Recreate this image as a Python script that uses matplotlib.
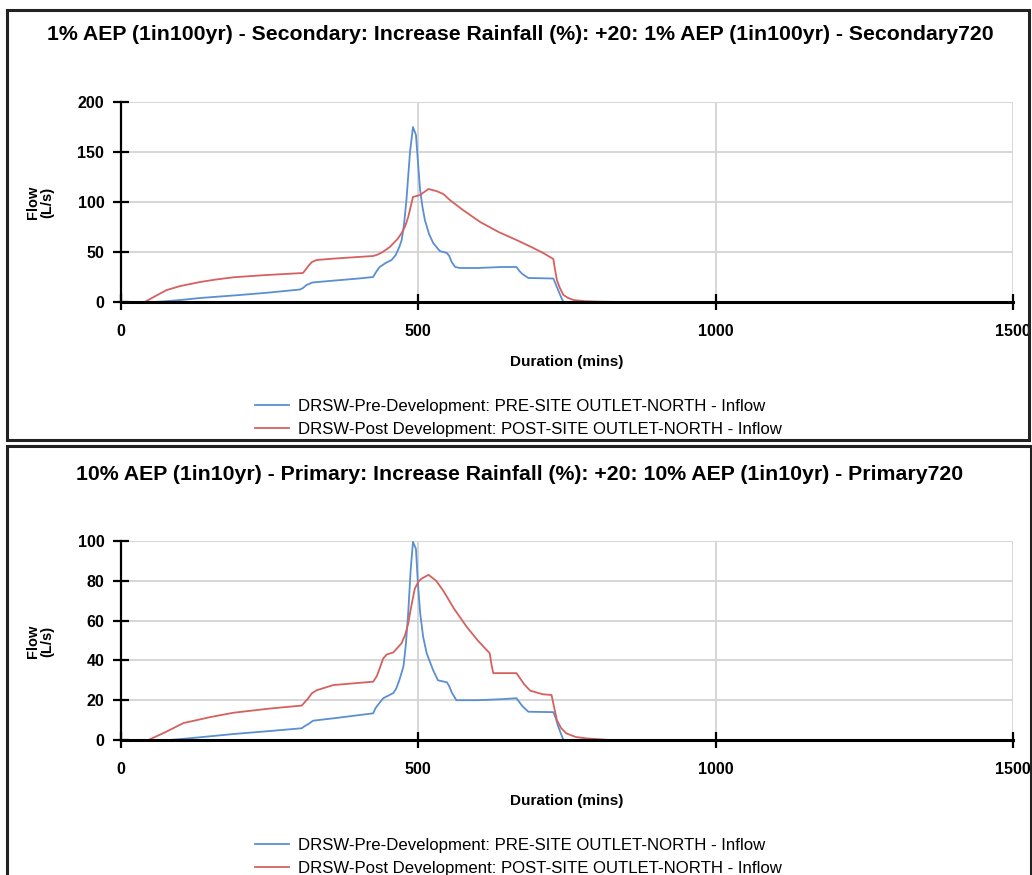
"""Two hydrographs: pre vs post development inflow at the north outlet."""
import matplotlib; matplotlib.use("Agg")
import matplotlib.pyplot as plt
from matplotlib.patches import Rectangle
from matplotlib import rcParams
rcParams["font.family"] = ["Liberation Sans", "DejaVu Sans"]

W, H = 1032, 875

TITLES = [
    "1% AEP (1in100yr) - Secondary: Increase Rainfall (%): +20: 1% AEP (1in100yr) - Secondary720",
    "10% AEP (1in10yr) - Primary: Increase Rainfall (%): +20: 10% AEP (1in10yr) - Primary720",
]
LABELS = ["DRSW-Pre-Development: PRE-SITE OUTLET-NORTH - Inflow",
          "DRSW-Post Development: POST-SITE OUTLET-NORTH - Inflow"]
X_TICKS = [0, 500, 1000, 1500]
Y_TICKS = [[0, 50, 100, 150, 200], [0, 20, 40, 60, 80, 100]]

# 1% AEP panel
pre1_t = [0, 57, 80, 100, 133, 200, 250, 301, 306, 312, 322, 350, 400, 424, 430, 435, 445, 455, 462,
          468, 472, 476, 480, 486, 491, 496, 500, 503, 507, 511, 518, 525, 536, 548, 552, 556, 562,
          570, 600, 640, 665, 670, 675, 685, 727, 731, 735, 740, 744, 760]
pre1_q = [0, 0, 1, 2, 4, 7, 9.5, 12.5, 14, 17, 19.5, 21, 23.5, 25, 31, 35, 39, 42, 47,
          55, 62, 78, 102, 150, 175, 167, 135, 112, 95, 82, 68, 59, 51, 49, 46, 40, 35,
          34, 34, 35, 35, 31, 28, 24, 23.5, 18, 12, 5, 0, 0]
post1_t = [40, 55, 77, 100, 133, 160, 189, 245, 306, 310, 315, 321, 329, 360, 424, 432, 440, 452,
           465, 472, 478, 483, 487, 491, 497, 503, 510, 517, 530, 542, 553, 575, 604, 635, 665, 690,
           710, 727, 730, 733, 738, 744, 752, 761, 780, 805, 840]
post1_q = [0, 5, 12, 16, 20, 22.5, 24.7, 27, 29, 32, 36, 40, 42, 43.5, 46, 47.5, 50, 55,
           63, 69, 76, 85, 95, 105, 106, 107, 110, 113, 111, 108, 102, 92, 80, 70, 62, 55,
           49, 43, 32, 22, 14, 7, 4, 2, 0.8, 0.3, 0]

# 10% AEP panel
pre2_t = [0, 82, 120, 189, 250, 304, 309, 315, 323, 360, 424, 428, 433, 441, 458, 463, 468, 475, 479,
          483, 487, 491, 496, 499, 503, 508, 514, 525, 533, 548, 552, 556, 564, 600, 640, 665, 670,
          675, 685, 727, 731, 735, 740, 744, 760]
pre2_q = [0, 0, 1, 3, 4.5, 5.9, 7, 8, 9.7, 11, 13.4, 16, 18, 21, 23.6, 26, 30, 37, 48,
          64, 85, 99.6, 96, 80, 64, 52, 43.6, 35, 30, 29, 27, 24, 20, 20, 20.5, 21, 19,
          17, 14.2, 14, 11, 7, 3, 0, 0]
post2_t = [46, 75, 105, 150, 189, 250, 304, 309, 315, 321, 329, 357, 424, 430, 435, 441, 447, 458,
           472, 478, 483, 488, 494, 500, 505, 517, 530, 542, 560, 581, 600, 620, 623, 626, 665, 671,
           678, 688, 709, 724, 728, 733, 740, 749, 765, 783, 823]
post2_q = [0, 4, 8.5, 11.5, 13.7, 15.8, 17.3, 19, 21, 23.5, 25, 27.6, 29.3, 32, 36, 41, 43, 44,
           48.7, 53, 58.6, 67, 76, 79.5, 81, 83, 80, 75, 66, 57, 50, 43.6, 38, 33.6, 33.6, 31,
           28, 24.8, 23, 22.6, 17, 10, 6, 3.3, 1.5, 0.8, 0]

BLUE, RED = "#5a8fd2", "#d5615f"


def fx(px): return px / W
def fy(py): return 1 - py / H


fig = plt.figure(figsize=(W / 100, H / 100), dpi=100)

# panel frames
for (x0, y0, x1, y1) in [(7, 10, 1029, 440), (7, 446, 1031, 900)]:
    fig.add_artist(Rectangle((fx(x0), fy(y1)), fx(x1 - x0), (y1 - y0) / H, transform=fig.transFigure,
                             fill=False, lw=2.2, ec="#222222", clip_on=False))

panels = [
    dict(top=102, bot=302, pre=(pre1_t, pre1_q), post=(post1_t, post1_q), ymax=200),
    dict(top=541, bot=740, pre=(pre2_t, pre2_q), post=(post2_t, post2_q), ymax=100),
]
offs = [0, 439]

for i, p in enumerate(panels):
    o = offs[i]
    ax = fig.add_axes([fx(121), fy(p["bot"]), fx(1013 - 121), (p["bot"] - p["top"]) / H])
    ax.plot(*p["pre"], color=BLUE, lw=1.3, label=LABELS[0], zorder=3)
    ax.plot(*p["post"], color=RED, lw=1.3, label=LABELS[1], zorder=3)
    ax.set_xlim(0, 1500); ax.set_ylim(0, p["ymax"])
    ax.set_xticks(X_TICKS); ax.set_yticks(Y_TICKS[i])
    ax.grid(True, color="#d6d6d6", lw=1.4, zorder=0)
    for s in ["top", "right"]: ax.spines[s].set_visible(False)
    ax.spines["bottom"].set_linewidth(2.2); ax.spines["bottom"].set_zorder(4)
    ax.spines["left"].set_linewidth(1.6)
    ax.tick_params(direction="inout", length=12, width=1.6, labelsize=11.5, pad=6)
    for lab in ax.get_xticklabels() + ax.get_yticklabels(): lab.set_fontweight("bold")
    ax.tick_params(axis="x", pad=10)

    fig.text(fx(520), fy(35 + o), TITLES[i], ha="center", va="center", fontsize=15.3, fontweight="bold")
    fig.text(fx(567), fy(362 + o), "Duration (mins)", ha="center", va="center", fontsize=11, fontweight="bold")
    fig.text(fx(40), fy(202 + o), "Flow\n(L/s)", ha="center", va="center", rotation=90,
             fontsize=10.5, fontweight="bold", linespacing=1.0)
    fig.legend(handles=ax.get_lines(), loc="center left", bbox_to_anchor=(fx(255), fy(418 + o)),
               frameon=False, fontsize=12.1, handlelength=2.0, handletextpad=0.55, labelspacing=0.5,
               borderpad=0, borderaxespad=0)

fig.savefig("out.png", dpi=100)
